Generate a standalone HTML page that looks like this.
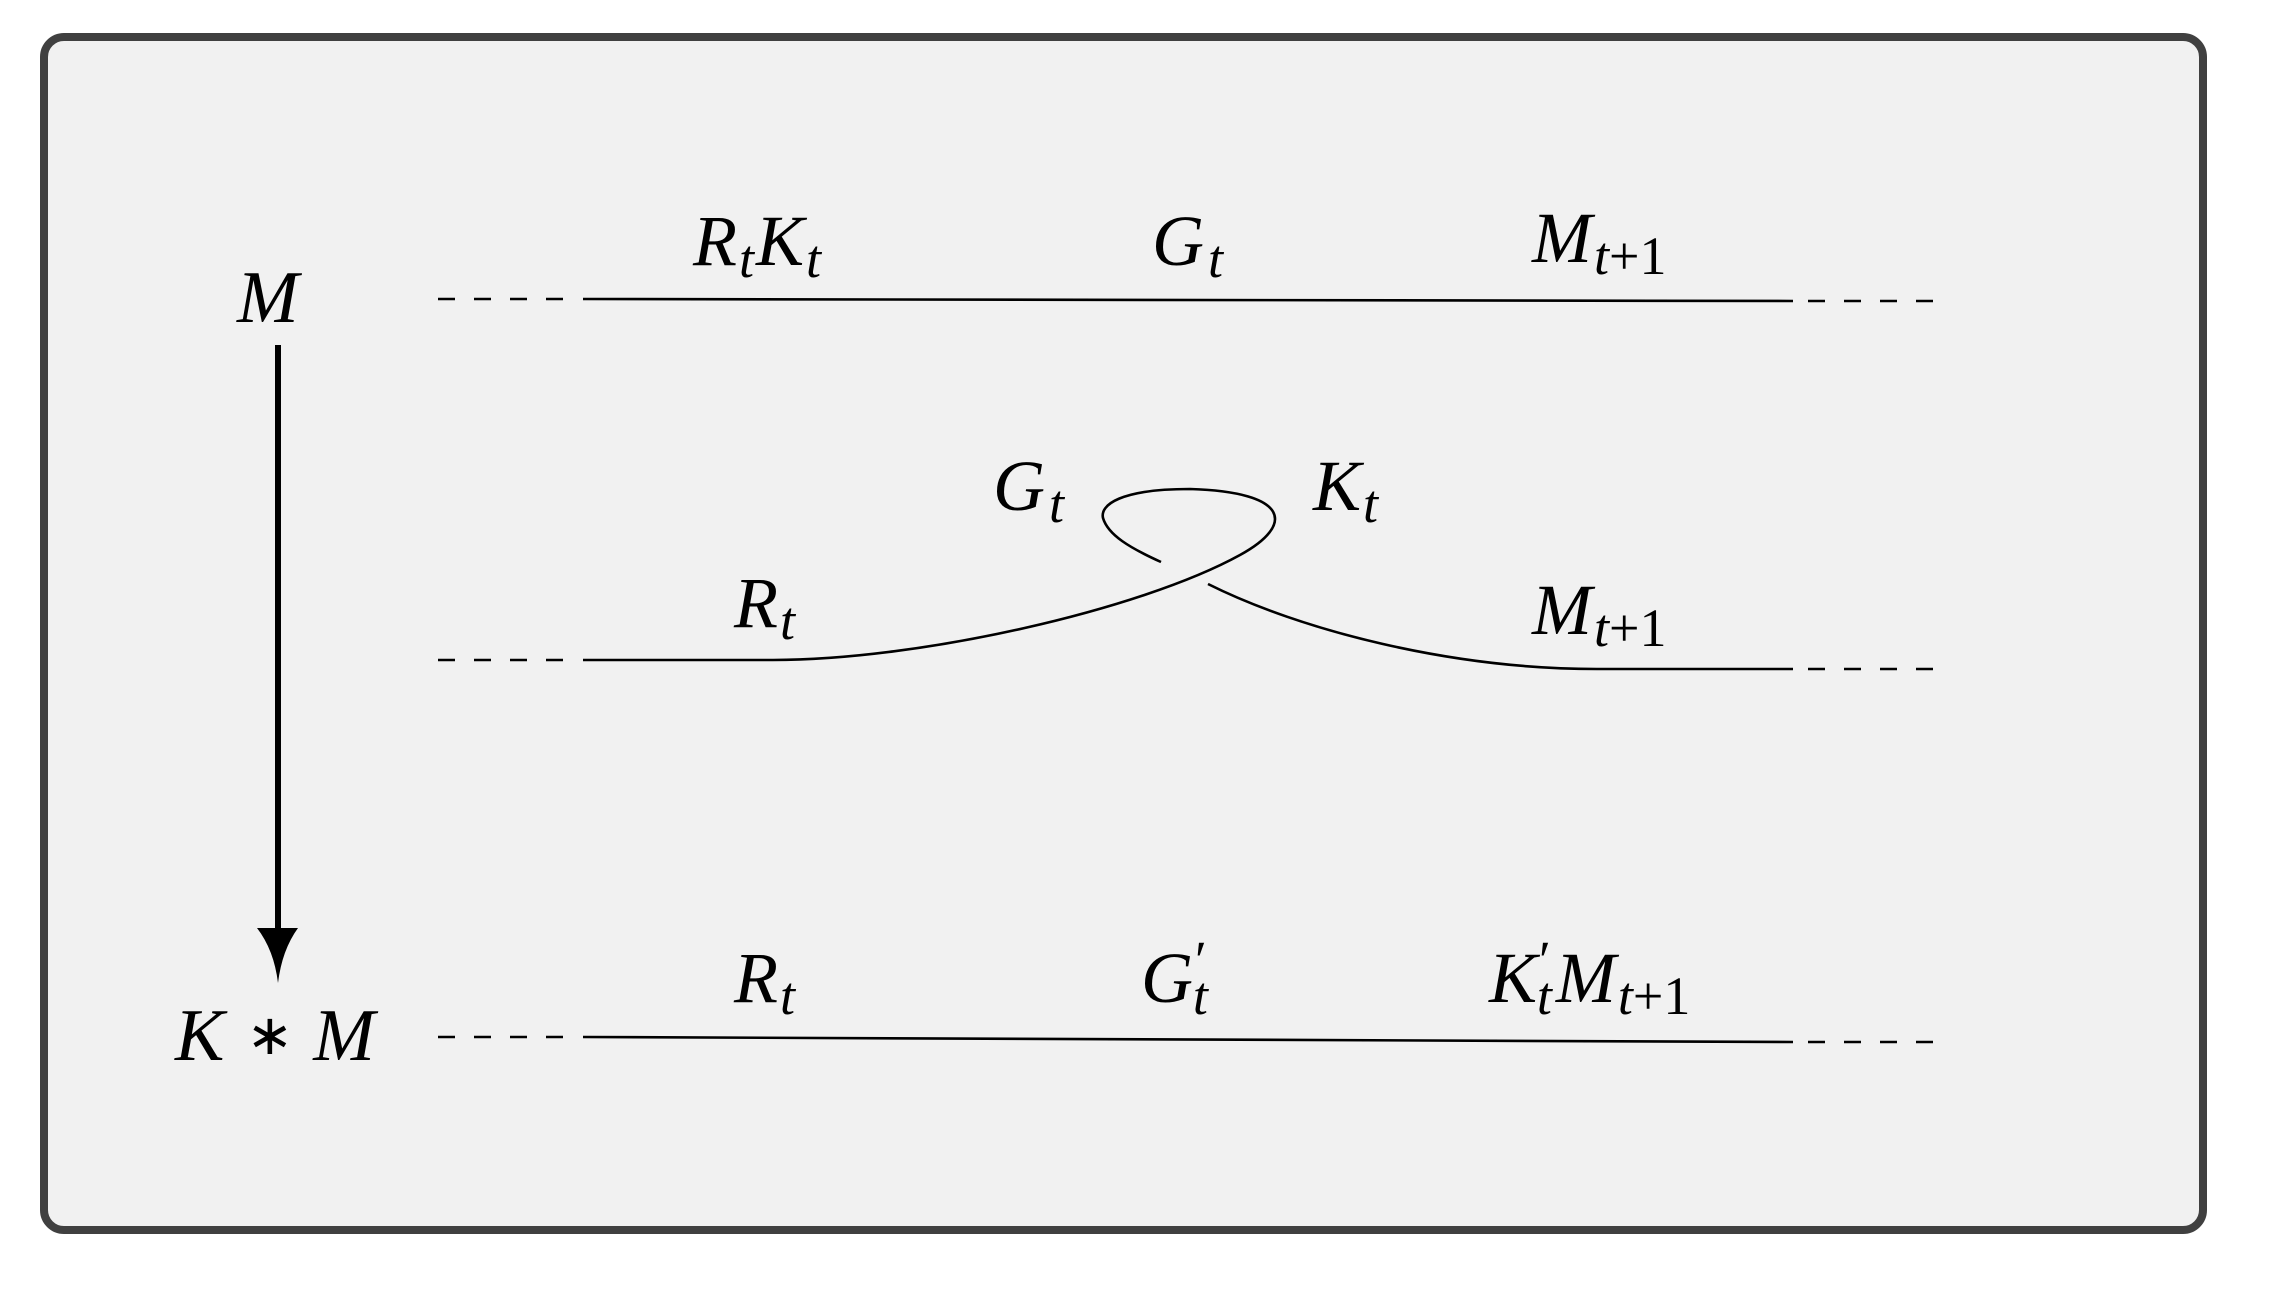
<!DOCTYPE html>
<html><head><meta charset="utf-8"><style>
html,body{margin:0;padding:0;background:#fff;width:2286px;height:1308px;overflow:hidden}
text{font-family:"Liberation Serif",serif;font-style:italic;fill:#000}
</style></head><body>
<svg width="2286" height="1308" viewBox="0 0 2286 1308" xmlns="http://www.w3.org/2000/svg">
<rect x="44" y="37" width="2159" height="1193" rx="20" ry="20" fill="#f1f1f1" stroke="#404040" stroke-width="8"/>
<g stroke="#000" stroke-width="2.6" fill="none">
<line x1="438" y1="299" x2="580" y2="299" stroke-dasharray="17 19"/>
<path d="M583 299 L1793 301"/>
<line x1="1808" y1="301" x2="1940" y2="301" stroke-dasharray="17 19"/>
<line x1="438" y1="660" x2="580" y2="660" stroke-dasharray="17 19"/>
<path d="M583 660 L773 660 C920 660 1140 610 1240 555 C1295 525 1290 492 1190 489 C1120 489 1100 505 1103 518 C1108 535 1130 548 1161 562"/>
<path d="M1208 584 C1300 630 1450 669 1597 669 L1793 669"/>
<line x1="1808" y1="669" x2="1940" y2="669" stroke-dasharray="17 19"/>
<line x1="438" y1="1037" x2="580" y2="1037" stroke-dasharray="17 19"/>
<path d="M583 1037 L1793 1042"/>
<line x1="1808" y1="1042" x2="1940" y2="1042" stroke-dasharray="17 19"/>
</g>
<line x1="278" y1="345" x2="278" y2="940" stroke="#000" stroke-width="6"/>
<path d="M257 928 L298 928 Q282 950 278 983 Q274 950 257 928 Z" fill="#000"/>
<text x="237" y="322" font-size="74">M</text>
<text x="175" y="1060" font-size="74">K<tspan font-style="normal" font-size="56" dx="22" dy="-6">∗</tspan><tspan dx="20" dy="6">M</tspan></text>
<text x="693" y="265" font-size="72">R<tspan font-size="54" dx="2" dy="12">t</tspan><tspan dx="2" dy="-12">K</tspan><tspan font-size="54" dx="2" dy="12">t</tspan></text>
<text x="1152" y="265" font-size="72">G<tspan font-size="54" dx="4" dy="12">t</tspan></text>
<text x="1532" y="262" font-size="72">M<tspan font-size="54" dx="2" dy="12">t</tspan><tspan font-size="54" font-style="normal">+1</tspan></text>
<text x="993" y="510" font-size="72">G<tspan font-size="54" dx="4" dy="12">t</tspan></text>
<text x="1313" y="510" font-size="72">K<tspan font-size="54" dx="2" dy="12">t</tspan></text>
<text x="734" y="627" font-size="72">R<tspan font-size="54" dx="2" dy="12">t</tspan></text>
<text x="1532" y="634" font-size="72">M<tspan font-size="54" dx="2" dy="12">t</tspan><tspan font-size="54" font-style="normal">+1</tspan></text>
<text x="734" y="1002" font-size="72">R<tspan font-size="54" dx="2" dy="12">t</tspan></text>
<text x="1141" y="1002" font-size="72">G<tspan font-size="54" font-style="normal" dx="2" dy="-24">′</tspan><tspan font-size="54" dx="-14" dy="36">t</tspan></text>
<text x="1489" y="1002" font-size="72">K<tspan font-size="54" font-style="normal" dx="2" dy="-24">′</tspan><tspan font-size="54" dx="-14" dy="36">t</tspan><tspan dx="4" dy="-12">M</tspan><tspan font-size="54" dx="2" dy="12">t</tspan><tspan font-size="54" font-style="normal">+1</tspan></text>
</svg>
</body></html>
